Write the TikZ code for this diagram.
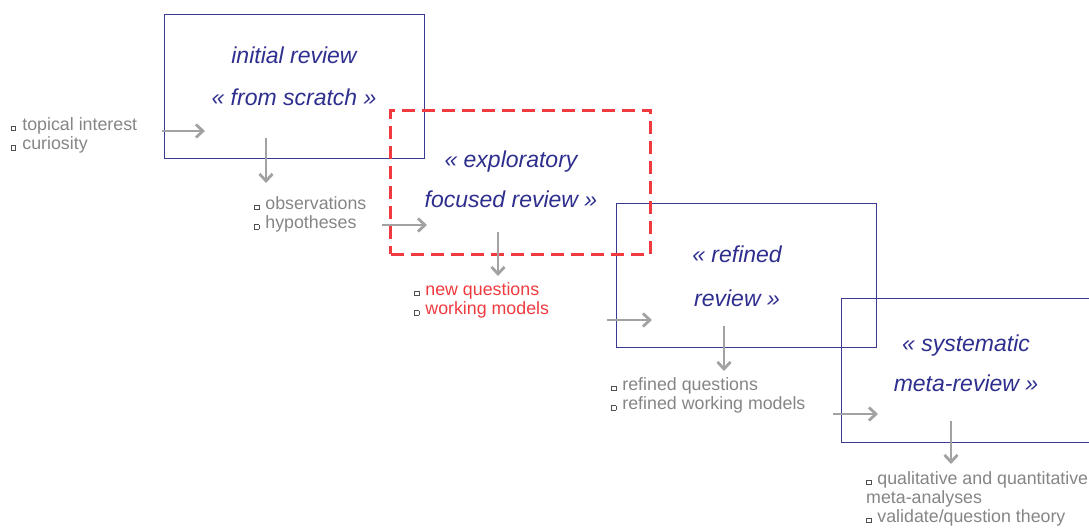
\documentclass[tikz,border=0pt]{standalone}
\usepackage{fontspec}
\setmainfont{Liberation Sans}
\usetikzlibrary{arrows.meta}

\definecolor{navy}{HTML}{2E2E8E}
\definecolor{boxline}{HTML}{3A3A90}
\definecolor{alertred}{HTML}{EF3B40}
\definecolor{notegray}{HTML}{858585}
\definecolor{arrowgray}{HTML}{A2A2A2}
\definecolor{bulletgray}{HTML}{505050}

% small hollow square bullet
\newcommand\sqbul{{\color{bulletgray}\setlength{\fboxsep}{0pt}\setlength{\fboxrule}{0.9pt}\fbox{\rule{0pt}{3.4pt}\rule{3.4pt}{0pt}}}\hspace{6pt}}
% fixed first-line height for the note lists
\newcommand\topline{\rule{0pt}{13pt}}

\begin{document}
\begin{tikzpicture}[x=1pt,y=-1pt,
  stage/.style={draw=boxline, line width=1.4pt, minimum width=260pt,
    minimum height=144pt, inner sep=0pt, anchor=north west},
  exploring/.style={stage, draw=alertred, line width=3pt, dash pattern=on 13pt off 7pt},
  title/.style={font=\fontsize{23}{#1}\selectfont\itshape, text=navy, align=center, inner sep=0pt},
  note/.style={font=\fontsize{17.8}{19.5}\selectfont, text=notegray, align=left,
    anchor=north west, inner sep=0pt},
  flow/.style={draw=arrowgray, line width=2.8pt, -{Straight Barb[length=7pt,width=13pt]}}]

\useasboundingbox (0,0) rectangle (1089,529);
\clip (0,0) rectangle (1089,529);

% review stages
\node[stage] (initial) at (164,14) {};
\node[stage] (refined) at (616,203) {};
\node[stage] (systematic) at (841,298) {};
\node[exploring] (exploratory) at (389,109) {};

\node[title=42] (initialT) at (294,76) {initial review\\« from scratch »};
\node[title=40] (exploratoryT) at (511,179) {« exploratory\\focused review »};
\node[title=44] (refinedT) at (737,276) {« refined\\review »};
\node[title=40] (systematicT) at (966,363) {« systematic\\meta-review »};

% inputs and outputs of each stage
\node[note] (inputs) at (11,117) {\topline\sqbul topical interest\\\sqbul curiosity};
\node[note] (obs) at (254,196) {\topline\sqbul observations\\\sqbul hypotheses};
\node[note, text=alertred] (newq) at (414,282) {\topline\sqbul new questions\\\sqbul working models};
\node[note] (refq) at (611,377) {\topline\sqbul refined questions\\\sqbul refined working models};
\node[note, font=\fontsize{17.8}{19}\selectfont] (meta) at (866,471)
  {\topline\sqbul qualitative and quantitative\\meta-analyses\\\sqbul validate/question theory};

% arrow end points
\coordinate (in1) at (162,131);  \coordinate (in1e) at (205,131);
\coordinate (out1) at (266,138); \coordinate (out1e) at (266,183);
\coordinate (in2) at (382,225);  \coordinate (in2e) at (427,225);
\coordinate (out2) at (498,232); \coordinate (out2e) at (498,276);
\coordinate (in3) at (607,320);  \coordinate (in3e) at (652,320);
\coordinate (out3) at (724,326); \coordinate (out3e) at (724,371);
\coordinate (in4) at (833,414);  \coordinate (in4e) at (878,414);
\coordinate (out4) at (951,421); \coordinate (out4e) at (951,464);

\draw[flow] (in1) -- (in1e);
\draw[flow] (out1) -- (out1e);
\draw[flow] (in2) -- (in2e);
\draw[flow] (out2) -- (out2e);
\draw[flow] (in3) -- (in3e);
\draw[flow] (out3) -- (out3e);
\draw[flow] (in4) -- (in4e);
\draw[flow] (out4) -- (out4e);
\end{tikzpicture}
\end{document}
